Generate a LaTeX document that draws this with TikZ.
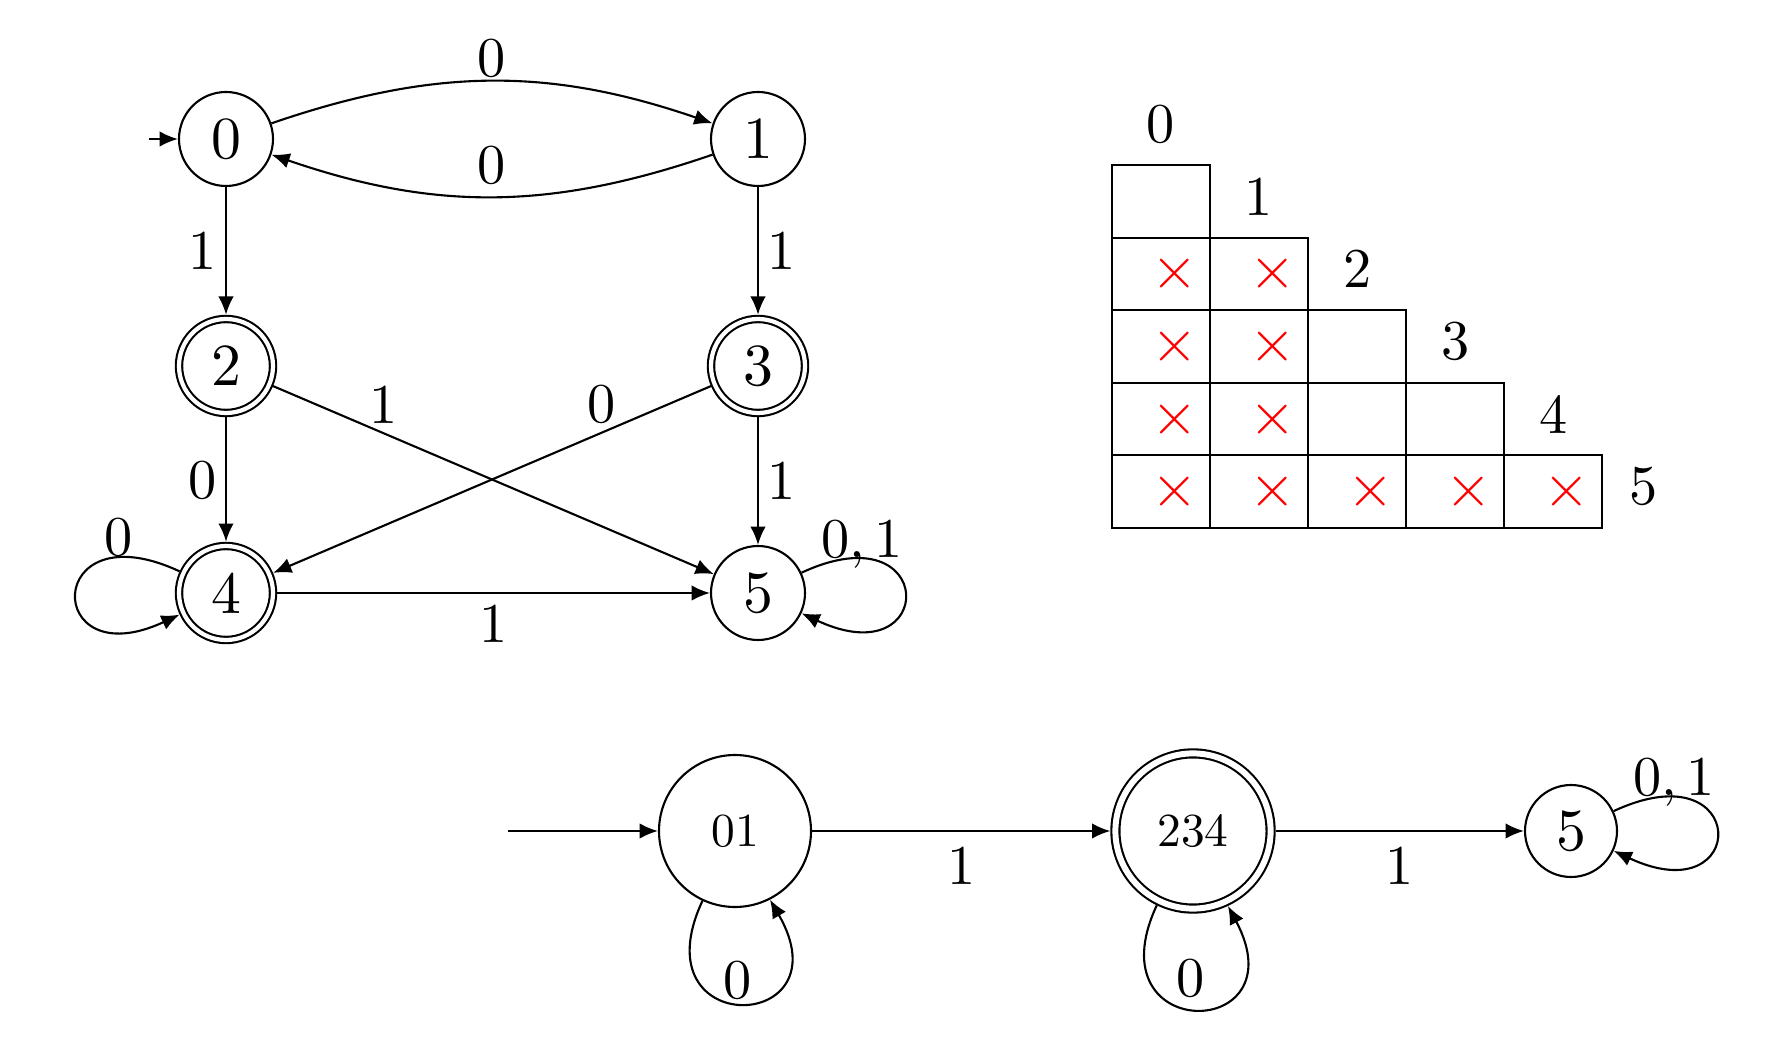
\documentclass[tikz,border=0pt]{standalone}
\usepackage{fontspec}
\setmainfont{lmroman10-regular.otf}
\usetikzlibrary{arrows.meta}
\begin{document}
\begin{tikzpicture}[
  line width=0.6pt,
  >={Latex[length=5.2pt,width=4.4pt]},
  st/.style={circle,draw,inner sep=0pt,minimum size=0.94cm,font=\fontsize{17}{20}\selectfont},
  acc/.style={st,double,double distance=1.2pt,outer sep=1.2pt},
  lab/.style={font=\fontsize{16}{19}\selectfont,inner sep=1pt,text depth=0pt},
  cross/.style={text=red,font=\fontsize{17}{20}\selectfont,inner sep=0pt},
  tlab/.style={font=\fontsize{16}{19}\selectfont,inner sep=0pt},
]
\useasboundingbox (0,0) rectangle (17.87,10.62);
% ---------- top DFA ----------
\node[st]  (q0) at (2.26,9.23) {0};
\node[st]  (q1) at (7.58,9.23) {1};
\node[acc] (q2) at (2.26,6.96) {2};
\node[acc] (q3) at (7.58,6.96) {3};
\node[acc] (q4) at (2.26,4.69) {4};
\node[st]  (q5) at (7.58,4.69) {5};
\coordinate (s0) at (1.49,9.23);
\draw[->] (s0) -- (q0);
\draw[->] (q0) to[bend left=19] node[lab,above] {0} (q1);
\draw[->] (q1) to[bend left=19] node[lab,above,yshift=2.5pt] {0} (q0);
\draw[->] (q0) -- node[lab,left,xshift=-1.4pt] {1} (q2);
\draw[->] (q1) -- node[lab,right,xshift=1.5pt] {1} (q3);
\draw[->] (q2) -- node[lab,left,xshift=-1.4pt] {0} (q4);
\draw[->] (q3) -- node[lab,right,xshift=1.5pt] {1} (q5);
\draw[->] (q2) -- node[lab,pos=0.25,above,yshift=1.4pt] {1} (q5);
\draw[->] (q3) -- node[lab,pos=0.25,above,yshift=1.5pt] {0} (q4);
\draw[->] (q4) -- node[lab,below,yshift=-2pt] {1} (q5);
\draw[->] (q4.155) .. controls +(155:1.51) and +(205:1.51) .. (q4.205)
  node[lab,pos=0.18,above,inner sep=0pt] {0};
\draw[->] (q5.25) .. controls +(25:1.51) and +(-25:1.51) .. (q5.-25)
  node[lab,pos=0.18,above,inner sep=0pt] {0,\thinspace 1};
% ---------- table ----------
\foreach \r in {0,...,4}{
  \foreach \c in {0,...,\r}{
    \draw (11.12+0.98*\c,8.97-0.726*\r) rectangle ++(0.98,-0.726);
  }
}
\foreach \r in {1,2,3}{
  \foreach \c in {0,1}{
    \node[cross] (x\r\c) at (11.743+0.98*\c,8.607-0.726*\r) {×};
  }
}
\foreach \c in {0,...,4}{
  \node[cross] (x4\c) at (11.743+0.98*\c,5.703) {×};
}
\node[tlab] (t0) at (11.606,9.378) {0};
\node[tlab] (t1) at (12.590,8.655) {1};
\node[tlab] (t2) at (13.572,7.930) {2};
\node[tlab] (t3) at (14.552,7.204) {3};
\node[tlab] (t4) at (15.535,6.480) {4};
\node[tlab] (t5) at (16.437,5.757) {5};
% ---------- bottom DFA ----------
\node[st,minimum size=1.52cm,font=\fontsize{13.5}{16}\selectfont] (m01) at (7.35,2.31) {01};
\node[acc,minimum size=1.552cm,double distance=1.7pt,outer sep=1.45pt,font=\fontsize{13.5}{16}\selectfont] (m234) at (11.93,2.31) {234};
\node[st,minimum size=0.92cm] (m5) at (15.71,2.31) {5};
\coordinate (s1) at (5.08,2.31);
\draw[->] (s1) -- (m01);
\draw[->] (m01) -- node[lab,below,yshift=-3.2pt] {1} (m234);
\draw[->] (m234) -- node[lab,below,yshift=-3.2pt] {1} (m5);
\draw[->] (m01.245) .. controls +(245:1.55) and +(300:1.55) .. (m01.297)
  node[lab,pos=0.5,above,xshift=-1pt] {0};
\draw[->] (m234.244) .. controls +(245:1.54) and +(298:1.54) .. (m234.295)
  node[lab,pos=0.5,above,xshift=-1.4pt,yshift=2.3pt] {0};
\draw[->] (m5.25) .. controls +(25:1.51) and +(-25:1.51) .. (m5.-25)
  node[lab,pos=0.18,above,inner sep=0pt] {0,\thinspace 1};
\end{tikzpicture}
\end{document}
